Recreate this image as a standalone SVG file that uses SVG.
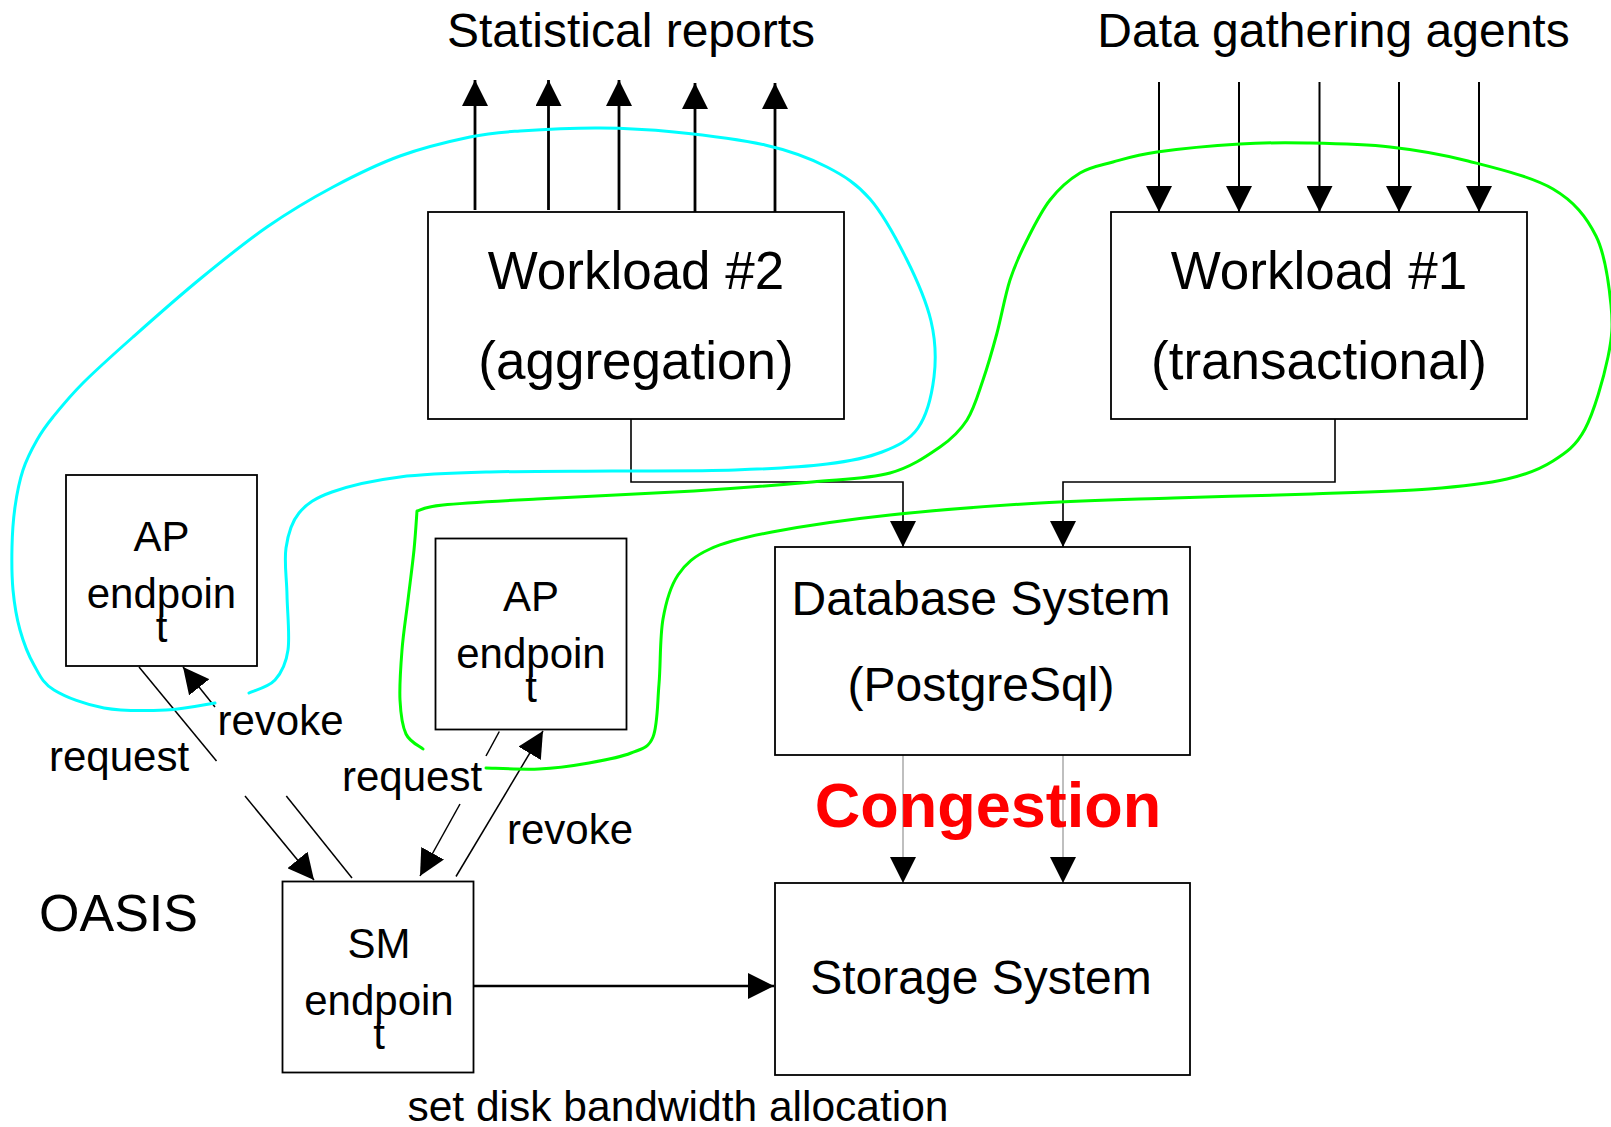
<svg xmlns="http://www.w3.org/2000/svg" width="1611" height="1127" viewBox="0 0 1611 1127">
<style>
text{font-family:"Liberation Sans",Arial,sans-serif;fill:#000}
.box{fill:#fff;stroke:#000;stroke-width:1.8}
.t53{font-size:53px;text-anchor:middle}
.t48{font-size:48px;text-anchor:middle}
.t42{font-size:42px}
.mid{text-anchor:middle}
.ln{fill:none;stroke:#000}
.curve{fill:none;stroke-width:3;stroke-linecap:round;stroke-linejoin:round}
</style>
<defs>
<marker id="ah" viewBox="0 0 26 26" refX="26" refY="13" markerWidth="26" markerHeight="26" markerUnits="userSpaceOnUse" orient="auto">
<path d="M0,0 L26,13 L0,26 z" fill="#000"/>
</marker>
</defs>
<rect width="1611" height="1127" fill="#fff"/>

<g id="title-stat"><text class="t48" x="631" y="47">Statistical reports</text></g>
<g id="title-data"><text class="t48" x="1333.5" y="47">Data gathering agents</text></g>

<g id="connectors">
<g stroke="#000" stroke-width="2.8" marker-end="url(#ah)">
<line x1="475" y1="210" x2="475" y2="80"/>
<line x1="548.5" y1="210" x2="548.5" y2="80"/>
<line x1="619" y1="210" x2="619" y2="80"/>
<line x1="695" y1="212" x2="695" y2="83"/>
<line x1="775" y1="212" x2="775" y2="83"/>
</g>
<g stroke="#000" stroke-width="2" marker-end="url(#ah)">
<line x1="1159" y1="82" x2="1159" y2="212"/>
<line x1="1239" y1="82" x2="1239" y2="212"/>
<line x1="1319.5" y1="82" x2="1319.5" y2="212"/>
<line x1="1399" y1="82" x2="1399" y2="212"/>
<line x1="1479" y1="82" x2="1479" y2="212"/>
</g>
<polyline class="ln" stroke-width="1.6" points="631,419 631,482 903,482 903,547" marker-end="url(#ah)"/>
<polyline class="ln" stroke-width="1.6" points="1335,419 1335,482 1063,482 1063,547" marker-end="url(#ah)"/>
<line x1="903" y1="755" x2="903" y2="883" stroke="#8a8a8a" stroke-width="1.1" marker-end="url(#ah)"/>
<line x1="1063" y1="755" x2="1063" y2="883" stroke="#8a8a8a" stroke-width="1.1" marker-end="url(#ah)"/>
<line x1="474" y1="986" x2="774" y2="986" stroke="#000" stroke-width="2.5" marker-end="url(#ah)"/>
<g stroke="#000" stroke-width="1.5">
<line x1="139" y1="667" x2="216.5" y2="761"/>
<line x1="245" y1="796" x2="314" y2="880" marker-end="url(#ah)"/>
<line x1="352" y1="878" x2="286.3" y2="796"/>
<line x1="215" y1="707" x2="183" y2="667" marker-end="url(#ah)"/>
<line x1="499.3" y1="731.5" x2="486" y2="756"/>
<line x1="460" y1="804" x2="420" y2="876" marker-end="url(#ah)"/>
<line x1="456" y1="876.5" x2="543" y2="731" marker-end="url(#ah)"/>
</g>
</g>

<g id="workload2">
<rect class="box" x="428" y="212" width="416" height="207"/>
<text class="t53" x="636" y="289">Workload #2</text>
<text class="t53" x="636" y="379">(aggregation)</text>
</g>
<g id="workload1">
<rect class="box" x="1111" y="212" width="416" height="207"/>
<text class="t53" x="1319" y="289">Workload #1</text>
<text class="t53" x="1319" y="379">(transactional)</text>
</g>
<g id="database">
<rect class="box" x="775" y="547" width="415" height="208"/>
<text class="t48" x="981" y="615">Database System</text>
<text class="t48" x="981" y="701">(PostgreSql)</text>
</g>
<g id="storage">
<rect class="box" x="775" y="883" width="415" height="192"/>
<text class="t48" x="981" y="994">Storage System</text>
</g>
<g id="ap-left">
<rect class="box" x="66" y="475" width="191" height="191"/>
<text class="t42 mid" x="161.5" y="551">AP</text>
<text class="t42 mid" x="161.5" y="608">endpoin</text>
<text class="t42 mid" x="161.5" y="642">t</text>
</g>
<g id="ap-mid">
<rect class="box" x="435.5" y="538.5" width="191" height="191"/>
<text class="t42 mid" x="531" y="611">AP</text>
<text class="t42 mid" x="531" y="668">endpoin</text>
<text class="t42 mid" x="531" y="702">t</text>
</g>
<g id="sm">
<rect class="box" x="282.5" y="881.5" width="191" height="191"/>
<text class="t42 mid" x="379" y="958">SM</text>
<text class="t42 mid" x="379" y="1014.5">endpoin</text>
<text class="t42 mid" x="379" y="1048.5">t</text>
</g>

<g id="curves">
<path class="curve" stroke="#00ffff" d="M249,693 C253.3,690.8 268.5,687.2 275,680 C281.5,672.8 286,664.2 288,650 C290,635.8 287.3,612 287,595 C286.7,578 284,561.7 286,548 C288,534.3 291.3,522.3 299,513 C306.7,503.7 315.2,498 332,492 C348.8,486 373.7,480.3 400,477 C426.3,473.7 454.7,473 490,472 C525.3,471 571.2,471.3 612,471 C652.8,470.7 699.2,471.2 735,470 C770.8,468.8 802.5,467 827,464 C851.5,461 866.8,458 882,452 C897.2,446 909.3,440.5 918,428 C926.7,415.5 931.8,394.8 934,377 C936.2,359.2 935.7,340.8 931,321 C926.3,301.2 916.2,278.3 906,258 C895.8,237.7 883.2,214.2 870,199 C856.8,183.8 844.5,176 827,167 C809.5,158 790.5,150.8 765,145 C739.5,139.2 701.5,134.8 674,132 C646.5,129.2 625.7,128.2 600,128 C574.3,127.8 541.7,129.5 520,131 C498.3,132.5 490,132.8 470,137 C450,141.2 422.8,147.7 400,156 C377.2,164.3 355.2,175.2 333,187 C310.8,198.8 289.2,211.7 267,227 C244.8,242.3 222.3,260.7 200,279 C177.7,297.3 152.5,319.7 133,337 C113.5,354.3 96.3,369.7 83,383 C69.7,396.3 60.7,407.5 53,417 C45.3,426.5 42,431.2 37,440 C32,448.8 26.7,458.8 23,470 C19.3,481.2 16.8,494.2 15,507 C13.2,519.8 12.3,533.2 12,547 C11.7,560.8 11.7,576.2 13,590 C14.3,603.8 16.5,617.5 20,630 C23.5,642.5 28.3,655 34,665 C39.7,675 42.3,682.8 54,690 C65.7,697.2 85.3,704.7 104,708 C122.7,711.3 147.5,710.8 166,710 C184.5,709.2 206.8,704.2 215,703"/>
<path class="curve" stroke="#00ff00" d="M423,749 C420.2,746.5 409.8,742.2 406,734 C402.2,725.8 400.7,714 400,700 C399.3,686 400.7,666.7 402,650 C403.3,633.3 406,616.7 408,600 C410,583.3 412.5,564.8 414,550 C415.5,535.2 416.5,517.5 417,511 C421.3,510 423,507 443,505 C463,503 495.2,501.3 537,499 C578.8,496.7 648.2,493.8 694,491 C739.8,488.2 779.3,485 812,482 C844.7,479 868.7,478.8 890,473 C911.3,467.2 927.2,455.8 940,447 C952.8,438.2 959.8,431.2 967,420 C974.2,408.8 978,394.5 983,380 C988,365.5 992.5,349.7 997,333 C1001.5,316.3 1005,295.5 1010,280 C1015,264.5 1020.3,253.3 1027,240 C1033.7,226.7 1041.2,211.2 1050,200 C1058.8,188.8 1069.5,179.3 1080,173 C1090.5,166.7 1100.2,165.5 1113,162 C1125.8,158.5 1135.8,155 1157,152 C1178.2,149 1215,145.5 1240,144 C1265,142.5 1282,142.5 1307,143 C1332,143.5 1363.2,144 1390,147 C1416.8,150 1440.8,154 1468,161 C1495.2,168 1531.7,176.5 1553,189 C1574.3,201.5 1586.3,216.7 1596,236 C1605.7,255.3 1609,284.8 1611,305 C1613,325.2 1612.3,336.3 1608,357 C1603.7,377.7 1594.2,411.7 1585,429 C1575.8,446.3 1566,452.7 1553,461 C1540,469.3 1527.7,474.3 1507,479 C1486.3,483.7 1461.5,486.5 1429,489 C1396.5,491.5 1354.7,492.5 1312,494 C1269.3,495.5 1218.3,496.5 1173,498 C1127.7,499.5 1087.2,500.2 1040,503 C992.8,505.8 934.7,510.2 890,515 C845.3,519.8 802,526.3 772,532 C742,537.7 725.7,541.8 710,549 C694.3,556.2 685.8,563.3 678,575 C670.2,586.7 666.2,600.8 663,619 C659.8,637.2 660.7,664.3 659,684 C657.3,703.7 657.7,725.5 653,737 C648.3,748.5 641.7,748.7 631,753 C620.3,757.3 604.3,760.3 589,763 C573.7,765.7 556.2,768.2 539,769 C521.8,769.8 494.8,768.2 486,768"/>
</g>

<g id="labels">
<text class="t42" x="49" y="771">request</text>
<text class="t42" x="217.5" y="735">revoke</text>
<text class="t42" x="342" y="791">request</text>
<text class="t42" x="507" y="844">revoke</text>
<text x="988" y="827" font-size="63" font-weight="bold" text-anchor="middle" style="fill:#ff0000">Congestion</text>
<text x="39" y="931" font-size="52">OASIS</text>
<text x="678" y="1121" font-size="42.5" text-anchor="middle">set disk bandwidth allocation</text>
</g>
</svg>
